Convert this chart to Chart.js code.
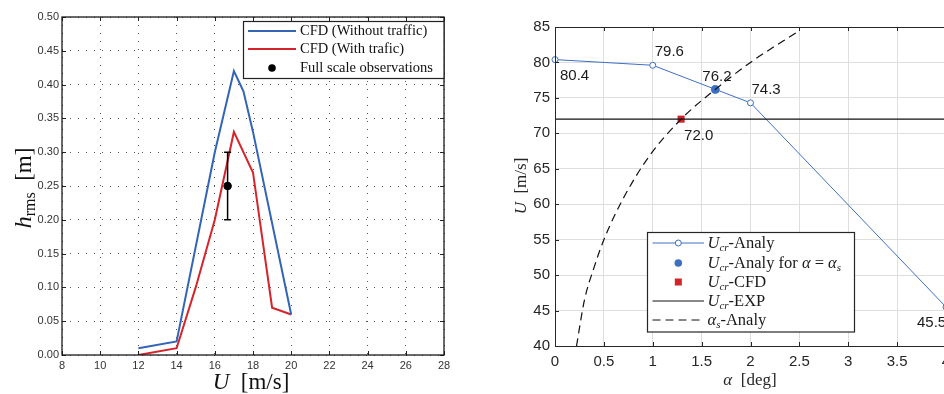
<!DOCTYPE html>
<html><head><meta charset="utf-8">
<script src="https://cdn.jsdelivr.net/npm/chart.js@4/dist/chart.umd.min.js"></script>
<style>
html,body{margin:0;padding:0;background:#fff;overflow:hidden;width:944px;height:394px;}
#l{position:absolute;left:0;top:0;}
#r{position:absolute;left:470px;top:0;}
</style></head><body>
<canvas id="l" width="470" height="394"></canvas>
<canvas id="r" width="490" height="394"></canvas>
<script>
// ---------- LEFT CHART DATA ----------
const leftXTicks = [8,10,12,14,16,18,20,22,24,26,28];
const leftYTicks = [0,0.05,0.10,0.15,0.20,0.25,0.30,0.35,0.40,0.45,0.50];
const speedNoTraffic = [12,14,16,17,17.5,18,20];
const hrmsNoTraffic  = [0.01,0.02,0.30,0.42,0.39,0.33,0.06];
const speedTraffic = [12,14,15,16,17,18,19,20];
const hrmsTraffic  = [0.0,0.01,0.10,0.20,0.33,0.27,0.07,0.06];
const obsSpeed = [16.67];
const obsHrms  = [0.25];
const obsLow   = [0.20];
const obsHigh  = [0.30];
const leftLegend = ['CFD (Without traffic)','CFD (With trafic)','Full scale observations'];

// ---------- RIGHT CHART DATA ----------
const rightXTicks = [0,0.5,1,1.5,2,2.5,3,3.5,4];
const rightXTickLabels = ['0','0.5','1','1.5','2','2.5','3','3.5','4'];
const rightYTicks = [40,45,50,55,60,65,70,75,80,85];
const alphaAnaly = [0,1,2,4];
const ucrAnaly   = [80.4,79.6,74.3,45.5];
const alphaS     = [1.64];
const ucrAlphaS  = [76.2];
const alphaCFD   = [1.29];
const ucrCFD     = [72.0];
const alphaExp   = [0,4];
const ucrExp     = [72,72];
const curveAlpha = [0.22,0.30,0.40,0.50,0.69,0.96,1.29,1.64,2.0,2.5];
const curveU     = [40,46.4,51.1,55,60.6,66.7,72,76.2,80,84.5];

const BLUE_L='#3464b6', RED_L='#d5242b', BLUE_R='#3d70c2', RED_R='#d02428';
const SERIF='"Liberation Serif","Times New Roman",serif';
const SANS='"Liberation Sans",Arial,sans-serif';

function pts(xs,ys){return xs.map((x,i)=>({x:x,y:ys[i]}));}
function rich(ctx,x,y,segs,align){
  let w=0;
  segs.forEach(s=>{ctx.font=s.f;s.w=ctx.measureText(s.t).width;w+=s.w;});
  let cx = align==='center'? x-w/2 : (align==='right'? x-w : x);
  ctx.textAlign='left';ctx.textBaseline='alphabetic';
  segs.forEach(s=>{ctx.font=s.f;ctx.fillText(s.t,cx,y+(s.dy||0));cx+=s.w;});
}
function innerTicks(ctx,chart,len,color,drawRight){
  const a=chart.chartArea, xs=chart.scales.x, ys=chart.scales.y;
  ctx.save();ctx.strokeStyle=color;ctx.lineWidth=1;ctx.beginPath();
  xs.ticks.forEach(t=>{const p=Math.round(xs.getPixelForValue(t.value))+0.5;
    ctx.moveTo(p,a.bottom);ctx.lineTo(p,a.bottom-len);ctx.moveTo(p,a.top);ctx.lineTo(p,a.top+len);});
  ys.ticks.forEach(t=>{const p=Math.round(ys.getPixelForValue(t.value))+0.5;
    ctx.moveTo(a.left,p);ctx.lineTo(a.left+len,p);
    if(drawRight){ctx.moveTo(a.right,p);ctx.lineTo(a.right-len,p);}});
  ctx.stroke();ctx.restore();
}

// ---------- LEFT CHART ----------
const leftPlugin={id:'leftDeco',afterDraw(chart){
  const ctx=chart.ctx,a=chart.chartArea,xs=chart.scales.x,ys=chart.scales.y;
  ctx.save();ctx.strokeStyle='#000';ctx.lineWidth=1.5;ctx.beginPath();
  obsSpeed.forEach((s,i)=>{const px=xs.getPixelForValue(s),y1=ys.getPixelForValue(obsLow[i]),y2=ys.getPixelForValue(obsHigh[i]);
    ctx.moveTo(px,y1);ctx.lineTo(px,y2);ctx.moveTo(px-3.5,y1);ctx.lineTo(px+3.5,y1);ctx.moveTo(px-3.5,y2);ctx.lineTo(px+3.5,y2);});
  ctx.stroke();ctx.restore();
  innerTicks(ctx,chart,4,'#222',true);
  ctx.save();ctx.strokeStyle='#1a1a1a';ctx.lineWidth=1.3;
  ctx.strokeRect(a.left,a.top,a.right-a.left,a.bottom-a.top);
  const bx=243.5,by=21.5,bw=200.5,bh=57;
  ctx.fillStyle='#fff';ctx.fillRect(bx,by,bw,bh);
  ctx.strokeStyle='#222';ctx.lineWidth=1.2;ctx.strokeRect(bx,by,bw,bh);
  const rows=[31,49,68];
  ctx.lineWidth=2;
  ctx.strokeStyle=BLUE_L;ctx.beginPath();ctx.moveTo(248,rows[0]);ctx.lineTo(296,rows[0]);ctx.stroke();
  ctx.strokeStyle=RED_L;ctx.beginPath();ctx.moveTo(248,rows[1]);ctx.lineTo(296,rows[1]);ctx.stroke();
  ctx.fillStyle='#000';ctx.beginPath();ctx.arc(272,rows[2],3.8,0,Math.PI*2);ctx.fill();
  ctx.fillStyle='#111';ctx.font='14.5px '+SERIF;ctx.textBaseline='middle';ctx.textAlign='left';
  leftLegend.forEach((t,i)=>ctx.fillText(t,300,rows[i]+0.5));
  ctx.fillStyle='#111';
  rich(ctx,251,389,[{t:'U',f:'italic 23px '+SERIF},{t:'  [m/s]',f:'23px '+SERIF}],'center');
  ctx.save();ctx.translate(31,188);ctx.rotate(-Math.PI/2);
  rich(ctx,0,0,[{t:'h',f:'italic 24px '+SERIF},{t:'rms',f:'16px '+SERIF,dy:4},{t:'  [m]',f:'23px '+SERIF}],'center');
  ctx.restore();
  ctx.restore();
}};

new Chart(document.getElementById('l'),{
  type:'line',
  data:{datasets:[
    {label:leftLegend[0],data:pts(speedNoTraffic,hrmsNoTraffic),borderColor:BLUE_L,borderWidth:2,pointRadius:0,tension:0,fill:false},
    {label:leftLegend[1],data:pts(speedTraffic,hrmsTraffic),borderColor:RED_L,borderWidth:2,pointRadius:0,tension:0,fill:false},
    {label:leftLegend[2],type:'scatter',data:pts(obsSpeed,obsHrms),pointRadius:3.8,backgroundColor:'#000',borderColor:'#000',showLine:false}
  ]},
  options:{responsive:false,animation:false,devicePixelRatio:1,
    layout:{padding:{top:17,right:26,left:0,bottom:0}},
    plugins:{legend:{display:false},tooltip:{enabled:false}},
    scales:{
      x:{type:'linear',min:8,max:28,
        afterBuildTicks:s=>{s.ticks=leftXTicks.map(v=>({value:v}));},
        afterFit:s=>{s.height=39;},
        ticks:{font:{family:SANS,size:11},color:'#333',padding:4,maxRotation:0,autoSkip:false,callback:v=>String(v)},
        grid:{color:'#555',lineWidth:1,drawTicks:false},
        border:{display:false,dash:[1,7]}},
      y:{type:'linear',min:0,max:0.5,
        afterBuildTicks:s=>{s.ticks=leftYTicks.map(v=>({value:v}));},
        afterFit:s=>{s.width=62;},
        ticks:{font:{family:SANS,size:11},color:'#333',padding:3,autoSkip:false,callback:v=>Number(v).toFixed(2)},
        grid:{color:'#555',lineWidth:1,drawTicks:false},
        border:{display:false,dash:[1,7]}}
    }},
  plugins:[leftPlugin]
});

// ---------- RIGHT CHART ----------
const rightLabelStyle=[
  {dx:5,dy:16},{dx:2,dy:-13},{dx:-13,dy:-13},{dx:-29,dy:16}
];
const rightPlugin={id:'rightDeco',afterDraw(chart){
  const ctx=chart.ctx,a=chart.chartArea,xs=chart.scales.x,ys=chart.scales.y;
  innerTicks(ctx,chart,4,'#262626',false);
  ctx.save();ctx.strokeStyle='#262626';ctx.lineWidth=1;
  ctx.beginPath();
  ctx.moveTo(a.right+20,Math.round(a.top)+0.5);ctx.lineTo(Math.round(a.left)+0.5,Math.round(a.top)+0.5);
  ctx.lineTo(Math.round(a.left)+0.5,Math.round(a.bottom)+0.5);ctx.lineTo(a.right+20,Math.round(a.bottom)+0.5);
  ctx.stroke();
  ctx.fillStyle='#1a1a1a';ctx.font='15px '+SANS;ctx.textBaseline='middle';ctx.textAlign='left';
  alphaAnaly.forEach((x,i)=>{
    if(i===2){ctx.fillText(ucrAnaly[i].toFixed(1),xs.getPixelForValue(x)+1,ys.getPixelForValue(ucrAnaly[i])-13);return;}
    const st=rightLabelStyle[i];
    ctx.fillText(ucrAnaly[i].toFixed(1),xs.getPixelForValue(x)+st.dx,ys.getPixelForValue(ucrAnaly[i])+st.dy);});
  alphaS.forEach((x,i)=>{ctx.fillText(ucrAlphaS[i].toFixed(1),xs.getPixelForValue(x)+rightLabelStyle[2].dx,ys.getPixelForValue(ucrAlphaS[i])+rightLabelStyle[2].dy);});
  alphaCFD.forEach((x,i)=>{ctx.fillText(ucrCFD[i].toFixed(1),xs.getPixelForValue(x)+3,ys.getPixelForValue(ucrCFD[i])+17);});
  const bx=177.5,by=232.5,bw=207,bh=99.5;
  ctx.fillStyle='#fff';ctx.fillRect(bx,by,bw,bh);
  ctx.strokeStyle='#262626';ctx.lineWidth=1.2;ctx.strokeRect(bx,by,bw,bh);
  const rows=[243,263,282,301,320], lx1=182.5, lx2=234, mx=208.3, tx=237.5;
  ctx.lineWidth=1;
  ctx.strokeStyle=BLUE_R;ctx.beginPath();ctx.moveTo(lx1,rows[0]);ctx.lineTo(lx2,rows[0]);ctx.stroke();
  ctx.fillStyle='#fff';ctx.beginPath();ctx.arc(mx,rows[0],3,0,Math.PI*2);ctx.fill();ctx.stroke();
  ctx.fillStyle=BLUE_R;ctx.beginPath();ctx.arc(mx,rows[1],3.8,0,Math.PI*2);ctx.fill();
  ctx.fillStyle=RED_R;ctx.fillRect(mx-3.5,rows[2]-3.5,7,7);
  ctx.strokeStyle='#111';ctx.beginPath();ctx.moveTo(lx1,rows[3]);ctx.lineTo(lx2,rows[3]);ctx.stroke();
  ctx.setLineDash([8,5]);ctx.beginPath();ctx.moveTo(lx1,rows[4]);ctx.lineTo(lx2,rows[4]);ctx.stroke();ctx.setLineDash([]);
  ctx.fillStyle='#1a1a1a';
  const U=[{t:'U',f:'italic 16.5px '+SERIF},{t:'cr',f:'italic 11px '+SERIF,dy:3}];
  const by0=5;
  rich(ctx,tx,rows[0]+by0,U.concat([{t:'-Analy',f:'16.5px '+SERIF}]));
  rich(ctx,tx,rows[1]+by0,U.concat([{t:'-Analy for ',f:'16.5px '+SERIF},{t:'α',f:'italic 16.5px '+SERIF},{t:' = ',f:'16.5px '+SERIF},{t:'α',f:'italic 16.5px '+SERIF},{t:'s',f:'italic 11px '+SERIF,dy:3}]));
  rich(ctx,tx,rows[2]+by0,U.concat([{t:'-CFD',f:'16.5px '+SERIF}]));
  rich(ctx,tx,rows[3]+by0,U.concat([{t:'-EXP',f:'16.5px '+SERIF}]));
  rich(ctx,tx,rows[4]+by0,[{t:'α',f:'italic 16.5px '+SERIF},{t:'s',f:'italic 11px '+SERIF,dy:3},{t:'-Analy',f:'16.5px '+SERIF}]);
  ctx.fillStyle='#262626';
  rich(ctx,280,385,[{t:'α',f:'italic 17px '+SERIF},{t:'  [deg]',f:'17px '+SERIF}],'center');
  ctx.save();ctx.translate(56,186);ctx.rotate(-Math.PI/2);
  rich(ctx,0,0,[{t:'U',f:'italic 17px '+SERIF},{t:'  [m/s]',f:'17px '+SERIF}],'center');
  ctx.restore();
  ctx.restore();
}};

new Chart(document.getElementById('r'),{
  type:'line',
  data:{datasets:[
    {label:'Ucr-EXP',data:pts(alphaExp,ucrExp),borderColor:'#111',borderWidth:1.2,pointRadius:0,tension:0},
    {label:'alpha_s-Analy',data:pts(curveAlpha,curveU),borderColor:'#111',borderWidth:1.2,borderDash:[8,5],pointRadius:0,cubicInterpolationMode:'monotone'},
    {label:'Ucr-Analy',data:pts(alphaAnaly,ucrAnaly),borderColor:BLUE_R,borderWidth:1,pointRadius:3,pointBorderWidth:1,pointBackgroundColor:'#fff',pointBorderColor:BLUE_R,tension:0,clip:false},
    {label:'Ucr-Analy for alpha=alpha_s',type:'scatter',data:pts(alphaS,ucrAlphaS),pointRadius:4,backgroundColor:BLUE_R,borderColor:BLUE_R},
    {label:'Ucr-CFD',type:'scatter',data:pts(alphaCFD,ucrCFD),pointStyle:'rect',pointRadius:5,backgroundColor:RED_R,borderColor:RED_R,borderWidth:0}
  ]},
  options:{responsive:false,animation:false,devicePixelRatio:1,
    layout:{padding:{top:27,right:14,left:0,bottom:0}},
    plugins:{legend:{display:false},tooltip:{enabled:false}},
    scales:{
      x:{type:'linear',min:0,max:4,
        afterBuildTicks:s=>{s.ticks=rightXTicks.map(v=>({value:v}));},
        afterFit:s=>{s.height=48;},
        ticks:{font:{family:SANS,size:15},color:'#262626',padding:7,maxRotation:0,autoSkip:false,callback:(v,i)=>rightXTickLabels[i]},
        grid:{color:'#dedede',lineWidth:1,drawTicks:false},
        border:{display:false}},
      y:{type:'linear',min:40,max:85,
        afterBuildTicks:s=>{s.ticks=rightYTicks.map(v=>({value:v}));},
        afterFit:s=>{s.width=85;},
        ticks:{font:{family:SANS,size:15},color:'#262626',padding:5,autoSkip:false,callback:v=>String(v)},
        grid:{color:'#dedede',lineWidth:1,drawTicks:false},
        border:{display:false}}
    }},
  plugins:[rightPlugin]
});
</script>
</body></html>
